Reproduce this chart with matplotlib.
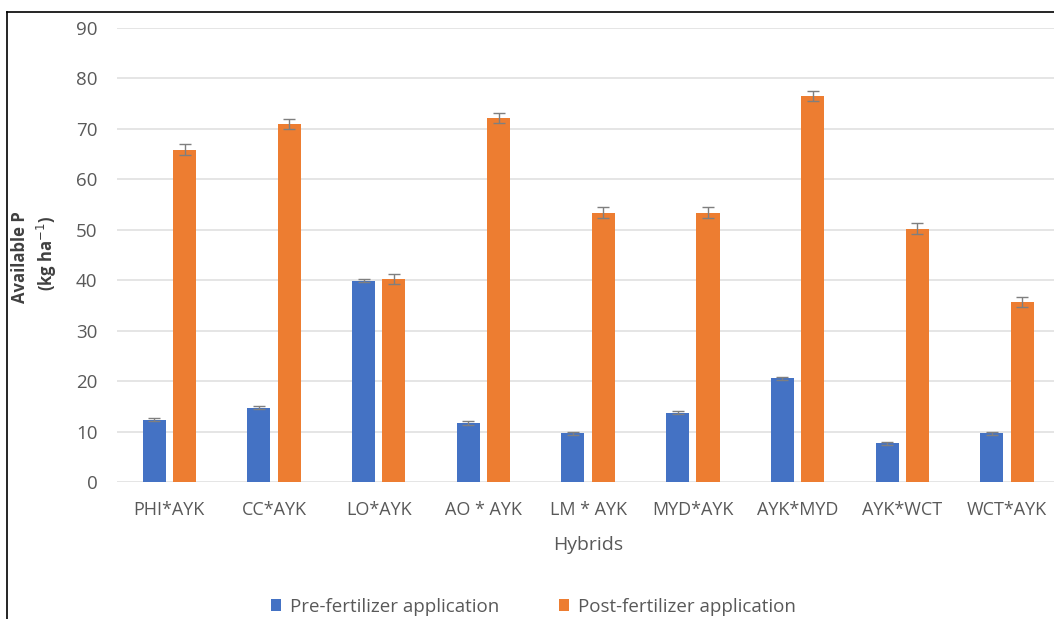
import matplotlib
matplotlib.use("Agg")
import matplotlib.pyplot as plt
from matplotlib.lines import Line2D
import numpy as np

hybrids = ["PHI*AYK", "CC*AYK", "LO*AYK", "AO * AYK", "LM * AYK",
           "MYD*AYK", "AYK*MYD", "AYK*WCT", "WCT*AYK"]
pre_fert = [12.3, 14.7, 39.9, 11.7, 9.7, 13.7, 20.6, 7.7, 9.7]
pre_err = [0.3, 0.3, 0.3, 0.3, 0.3, 0.3, 0.3, 0.3, 0.3]
post_fert = [65.9, 71.0, 40.2, 72.2, 53.4, 53.4, 76.6, 50.2, 35.7]
post_err = [1.1, 1.0, 1.0, 1.0, 1.1, 1.1, 1.0, 1.1, 1.0]
y_ticks = [0, 10, 20, 30, 40, 50, 60, 70, 80, 90]

plt.rcParams["font.family"] = ["Open Sans", "DejaVu Sans"]

fig = plt.figure(figsize=(10.54, 6.19), dpi=100)
ax = fig.add_axes([0.111, 0.2213, 0.894, 0.7334])

x = np.arange(len(hybrids))
w = 0.22
off = 0.145
ekw = dict(ecolor="#7f7f7f", elinewidth=1.0, capsize=4, capthick=1.0)
ax.bar(x - off, pre_fert, w, color="#4472c4", yerr=pre_err, error_kw=ekw,
       label="Pre-fertilizer application", zorder=3)
ax.bar(x + off, post_fert, w, color="#ed7d31", yerr=post_err, error_kw=ekw,
       label="Post-fertilizer application", zorder=3)

ax.set_xlim(-0.5, len(hybrids) - 0.5)
ax.set_ylim(0, 90)
ax.set_yticks(y_ticks)
ax.set_xticks(x)
ax.set_xticklabels(hybrids)
ax.tick_params(axis="both", length=0, labelsize=13, colors="#595959")
ax.tick_params(axis="y", pad=14, labelsize=13.5)
ax.tick_params(axis="x", pad=14)
ax.grid(axis="y", color="#e3e3e3", linewidth=1.3, zorder=0)
for s in ax.spines.values():
    s.set_visible(False)

ax.set_xlabel("Hybrids", fontsize=14, color="#595959", labelpad=12)

fig.text(0.019, 0.585, "Available P", rotation=90, ha="center", va="center",
         fontsize=12, fontweight="bold", color="#404040")
fig.text(0.045, 0.59, "(kg ha$^{-1}$)", rotation=90, ha="center", va="center",
         fontsize=12, fontweight="bold", color="#404040")

handles, labels = ax.get_legend_handles_labels()
fig.legend(handles, labels, loc="center", bbox_to_anchor=(0.506, 0.02),
           ncol=2, frameon=False, fontsize=13.5, handlelength=0.55,
           handleheight=0.55, columnspacing=3.2, handletextpad=0.45,
           labelcolor="#595959")

# outer frame lines
fig.add_artist(Line2D([0.0066, 1.0], [0.981, 0.981], color="black", lw=1.2,
                      transform=fig.transFigure))
fig.add_artist(Line2D([0.0066, 0.0066], [0.0, 0.981], color="black", lw=1.2,
                      transform=fig.transFigure))

fig.savefig("out.png", dpi=100)
